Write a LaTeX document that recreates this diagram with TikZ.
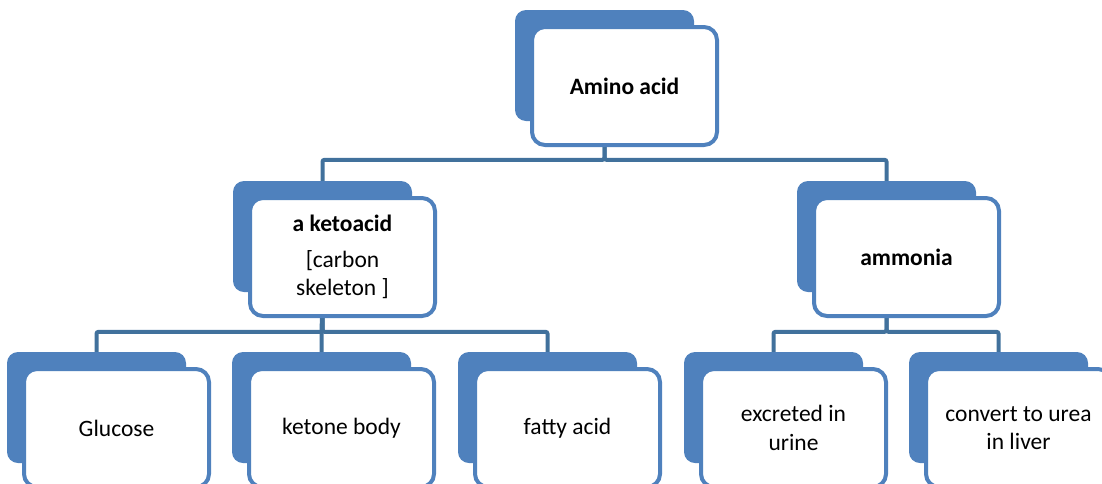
\documentclass[tikz,border=0pt]{standalone}
\usepackage{fontspec}
\setmainfont{Carlito}
\usetikzlibrary{backgrounds}

\definecolor{boxBlue}{HTML}{4F81BD}
\definecolor{linkBlue}{HTML}{41719C}

\tikzstyle{capBox} = [rectangle, rounded corners=13pt, minimum width=185pt, minimum height=118pt, inner sep=0pt, text centered, align=center, fill=white, draw=boxBlue, line width=4pt, font=\fontsize{23.5pt}{28.5pt}\selectfont]
\tikzstyle{capBack} = [rectangle, rounded corners=11pt, minimum width=179pt, minimum height=111pt, inner sep=0pt, fill=boxBlue]
\tikzstyle{link} = [line width=4pt, draw=linkBlue, rounded corners=2pt]

\begin{document}
\begin{tikzpicture}[x=1pt,y=-1pt]
  \useasboundingbox (0,0) rectangle (1102,483);

  \node (amino)[capBox] at (624.5,86) {\textbf{Amino acid}};
  \node (keto)[capBox] at (342.5,257) {\textbf{a ketoacid}\\[7pt] [carbon\\ skeleton ]};
  \node (ammonia)[capBox] at (906.5,257) {\textbf{ammonia}};
  \node (glucose)[capBox] at (116.5,428) {Glucose};
  \node (ketone)[capBox] at (341.5,428) {ketone body};
  \node (fatty)[capBox] at (567.5,428) {fatty acid};
  \node (excreted)[capBox] at (793.5,428) {excreted in\\ urine};
  \node (urea)[capBox] at (1018.5,428) {convert to urea\\ in liver};

  \begin{scope}[on background layer]
    \node (amino_b)[capBack] at ([shift={(-20pt,20.5pt)}]amino.center) {};
    \node (keto_b)[capBack] at ([shift={(-20pt,20.5pt)}]keto.center) {};
    \node (ammonia_b)[capBack] at ([shift={(-20pt,20.5pt)}]ammonia.center) {};
    \node (glucose_b)[capBack] at ([shift={(-20pt,20.5pt)}]glucose.center) {};
    \node (ketone_b)[capBack] at ([shift={(-20pt,20.5pt)}]ketone.center) {};
    \node (fatty_b)[capBack] at ([shift={(-20pt,20.5pt)}]fatty.center) {};
    \node (excreted_b)[capBack] at ([shift={(-20pt,20.5pt)}]excreted.center) {};
    \node (urea_b)[capBack] at ([shift={(-20pt,20.5pt)}]urea.center) {};

    \draw [link] (amino_b) |- ([yshift=21pt]keto_b.north) -- (keto_b.north);
    \draw [link] (amino_b) |- ([yshift=21pt]ammonia_b.north) -- (ammonia_b.north);

    \draw [link] (keto_b) |- ([yshift=20pt]glucose_b.north) -- (glucose_b.north);
    \draw [link] (keto_b) -- (ketone_b.north);
    \draw [link] (keto_b) |- ([yshift=20pt]fatty_b.north) -- (fatty_b.north);

    \draw [link] (ammonia_b) |- ([yshift=20pt]excreted_b.north) -- (excreted_b.north);
    \draw [link] (ammonia_b) |- ([yshift=20pt]urea_b.north) -- (urea_b.north);
  \end{scope}
\end{tikzpicture}
\end{document}
